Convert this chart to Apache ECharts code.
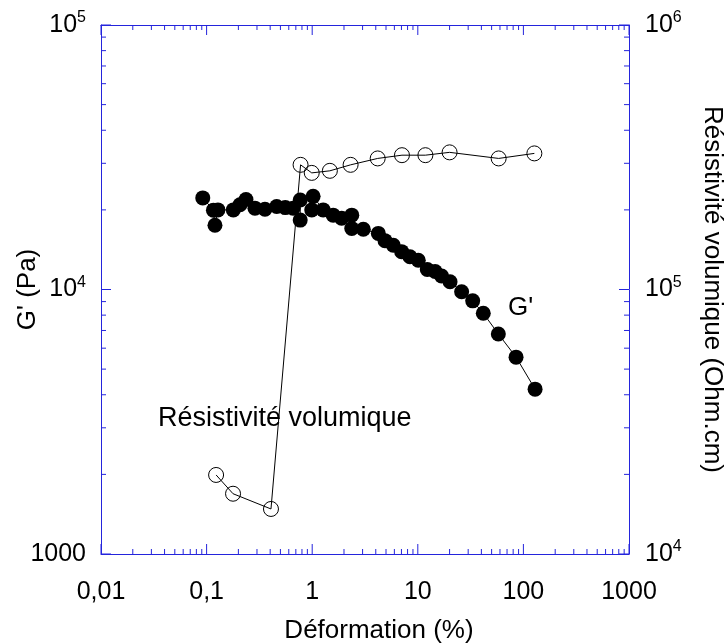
<!DOCTYPE html>
<html><head><meta charset="utf-8">
<script src="https://cdn.jsdelivr.net/npm/echarts@6/dist/echarts.min.js"></script>
<style>html,body{margin:0;padding:0;background:#fff}#c{width:727px;height:644px}</style>
</head><body><div id="c"></div>
<script>
// G' (Pa) vs Déformation (%)
const gStrain  = [0.092,0.116,0.12,0.128,0.179,0.207,0.236,0.287,0.357,0.461,0.556,0.66,0.77,0.77,0.99,1.02,1.27,1.58,1.9,2.37,2.37,3.05,4.23,4.89,5.86,7.03,8.43,10.1,12.3,14.6,16.8,20.2,26,33.1,41.7,57.9,85.2,129];
const gModulus = [22200,19950,17500,20000,20000,20900,21900,20300,20100,20600,20400,20300,21800,18300,20000,22500,20000,19100,18600,19100,17000,16900,16300,15300,14700,13900,13300,12900,11900,11700,11250,10700,9800,9060,8130,6790,5550,4200];
// Résistivité volumique (Ohm.cm) vs Déformation (%)
const rStrain  = [0.123,0.178,0.407,0.776,0.99,1.47,2.31,4.17,7.08,11.8,20,58.3,127];
const rResist  = [19900,16900,14800,296000,276000,281000,296000,313000,322000,322000,330000,313000,327000];
// tick labels and tick positions
const xTickLabels = ['0,01','0,1','1','10','100','1000'];
const xMajorTicks = [0.01,0.1,1,10,100,1000];
const yMajorTicks = [1000,10000,100000];
const xMinorTicks = [];
for (let e=-2;e<3;e++) for (let m=2;m<10;m++) xMinorTicks.push(m*Math.pow(10,e));
const yMinorTicks = [];
for (let e=3;e<5;e++) for (let m=2;m<10;m++) yMinorTicks.push(m*Math.pow(10,e));

const BLUE = '#2424dc';
const FONT = "'Liberation Sans', Arial, sans-serif";
const chart = echarts.init(document.getElementById('c'), null, {renderer:'canvas'});

function powLabel(v){
  const e = Math.round(Math.log10(v));
  if (e === 3) return '{b|1000}';
  return '{b|10}{s|' + e + '}';
}
const richSup = {
  b:{fontSize:25, fontFamily:FONT, color:'#000'},
  s:{fontSize:16, fontFamily:FONT, color:'#000', verticalAlign:'top', padding:[0,0,14,0]}
};
function axisCommon(){
  return {
    axisLine:{show:true, onZero:false, lineStyle:{color:BLUE, width:1}},
    axisTick:{show:false},
    splitLine:{show:false}
  };
}
// tick data: [x, y, orientation(0 = on x axes, 1 = on y axes), length]
const tickData = [];
xMinorTicks.forEach(v => tickData.push([v, 1000, 0, 5]));
xMajorTicks.forEach(v => tickData.push([v, 1000, 0, 10]));
yMinorTicks.forEach(v => tickData.push([0.01, v, 1, 5]));
yMajorTicks.forEach(v => tickData.push([0.01, v, 1, 10]));

chart.setOption({
  animation:false,
  backgroundColor:'#fff',
  grid:{left:101, right:98, top:25, bottom:90, containLabel:false, outerBoundsMode:'none'},
  xAxis:[
    Object.assign({type:'log', logBase:10, min:0.01, max:1000, splitNumber:5, position:'bottom',
      name:'Déformation (%)', nameLocation:'middle', nameGap:64, nameMoveOverlap:false,
      nameTextStyle:{fontSize:26, fontFamily:FONT, color:'#000', padding:[0,0,0,28]},
      axisLabel:{margin:26, fontSize:25, fontFamily:FONT, color:'#000',
        formatter:v => xTickLabels[Math.round(Math.log10(v))+2]}}, axisCommon()),
    Object.assign({type:'log', logBase:10, min:0.01, max:1000, splitNumber:5, position:'top',
      axisLabel:{show:false}}, axisCommon())
  ],
  yAxis:[
    Object.assign({type:'log', logBase:10, min:1000, max:100000, splitNumber:2, position:'left',
      name:"G' (Pa)", nameLocation:'middle', nameGap:60, nameRotate:90, nameMoveOverlap:false,
      nameTextStyle:{fontSize:26, fontFamily:FONT, color:'#000'},
      axisLabel:{margin:15, formatter:powLabel, rich:richSup}}, axisCommon()),
    Object.assign({type:'log', logBase:10, min:10000, max:1000000, splitNumber:2, position:'right',
      name:'Résistivité volumique (Ohm.cm)', nameLocation:'middle', nameGap:70, nameRotate:-90, nameMoveOverlap:false,
      nameTextStyle:{fontSize:26, fontFamily:FONT, color:'#000'},
      axisLabel:{margin:16, formatter:powLabel, rich:richSup}}, axisCommon())
  ],
  series:[
    {type:'custom', xAxisIndex:0, yAxisIndex:0, silent:true, z:1,
      dimensions:['x','y','o','len'],
      encode:{x:0, y:1},
      data: tickData,
      renderItem:(params, api) => {
        const cs = params.coordSys;
        const p = api.coord([api.value(0), api.value(1)]);
        const len = api.value(3);
        const st = {stroke:BLUE, lineWidth:1};
        if (api.value(2) === 0) {
          return {type:'group', children:[
            {type:'line', shape:{x1:p[0], y1:cs.y+cs.height, x2:p[0], y2:cs.y+cs.height-len}, style:st},
            {type:'line', shape:{x1:p[0], y1:cs.y, x2:p[0], y2:cs.y+len}, style:st}
          ]};
        }
        return {type:'group', children:[
          {type:'line', shape:{x1:cs.x, y1:p[1], x2:cs.x+len, y2:p[1]}, style:st},
          {type:'line', shape:{x1:cs.x+cs.width, y1:p[1], x2:cs.x+cs.width-len, y2:p[1]}, style:st}
        ]};
      }},
    {name:"G'", type:'line', xAxisIndex:0, yAxisIndex:0, z:3,
      data: gStrain.map((x,i) => [x, gModulus[i]]),
      symbol:'circle', symbolSize:15,
      itemStyle:{color:'#000'}, lineStyle:{color:'#000', width:1}},
    {name:'Résistivité volumique', type:'line', xAxisIndex:0, yAxisIndex:1, z:4,
      data: rStrain.map((x,i) => [x, rResist[i]]),
      symbol:'circle', symbolSize:15,
      itemStyle:{color:'rgba(0,0,0,0)', borderColor:'#000', borderWidth:1},
      lineStyle:{color:'#000', width:1}}
  ],
  graphic:[
    {type:'text', left:158, top:405, style:{text:'Résistivité volumique', font:"27px 'Liberation Sans', Arial, sans-serif", fill:'#000'}},
    {type:'text', left:508, top:295, style:{text:"G'", font:"26px 'Liberation Sans', Arial, sans-serif", fill:'#000'}}
  ]
});
</script></body></html>
